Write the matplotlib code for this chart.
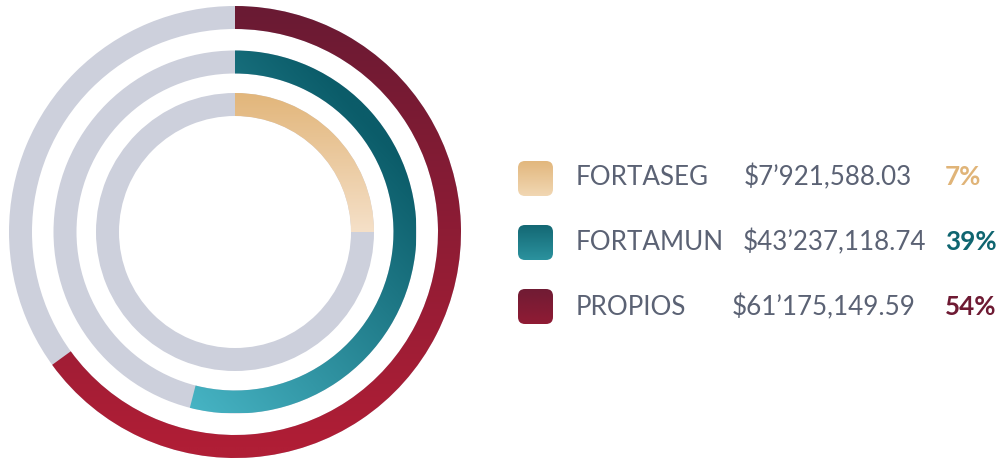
import numpy as np
import matplotlib.pyplot as plt
from matplotlib.patches import Wedge, FancyBboxPatch
from matplotlib.colors import LinearSegmentedColormap

# data
labels = ['FORTASEG', 'FORTAMUN', 'PROPIOS']
amounts = ['$7\u2019921,588.03', '$43\u2019237,118.74', '$61\u2019175,149.59']
pcts = [7, 39, 54]
# share of each ring that is filled, as drawn (inner -> outer)
arc_share = [0.25, 0.54, 0.65]

# gradient colours per series (start, end)
grad_colors = [('#E2B67B', '#F5E0C8'), ('#0B5C69', '#46B3C3'), ('#6A1A33', '#B01E36')]
box_colors = [('#E2B77D', '#F1D7B3'), ('#146874', '#2B929E'), ('#701B34', '#901C34')]
pct_colors = ['#E0B478', '#0F6570', '#6E1A33']
track_color = '#CDD0DC'
text_color = '#5B6274'

fig = plt.figure(figsize=(10.04, 4.6), dpi=100)
ax = fig.add_axes([0, 0, 1, 1])
ax.set_xlim(0, 1004)
ax.set_ylim(460, 0)
ax.axis('off')

cx, cy = 235, 233
radii = [139, 181.5, 226]
ring_w = 23


def gradient(clip, x0, x1, y0, y1, p0, p1, c1, c2):
    # linear gradient from point p0 to p1, clipped to a patch
    xs = np.linspace(x0, x1, 300)
    ys = np.linspace(y0, y1, 300)
    xx, yy = np.meshgrid(xs, ys)
    dx, dy = p1[0] - p0[0], p1[1] - p0[1]
    t = ((xx - p0[0]) * dx + (yy - p0[1]) * dy) / (dx * dx + dy * dy)
    t = np.clip(t, 0, 1)
    cmap = LinearSegmentedColormap.from_list('g', [c1, c2])
    im = ax.imshow(t, cmap=cmap, extent=(x0, x1, y1, y0), origin='upper',
                   interpolation='bilinear', vmin=0, vmax=1, zorder=2)
    im.set_clip_path(clip)


# gradient direction per ring
grad_dirs = [((235, 94), (235, 233)), ((430, 190), (190, 405)), ((235, 10), (235, 450))]

for i in range(3):
    r = radii[i]
    ax.add_patch(Wedge((cx, cy), r, 0, 360, width=ring_w, color=track_color, lw=0, zorder=1))
    w = Wedge((cx, cy), r, -90, -90 + 360 * arc_share[i], width=ring_w,
              transform=ax.transData)
    gradient(w, cx - r, cx + r, cy - r, cy + r, grad_dirs[i][0], grad_dirs[i][1],
             grad_colors[i][0], grad_colors[i][1])

# legend rows
box_y = [162, 226, 290]
base_y = [185, 250, 315]
amount_x = [744, 743, 732]
for i in range(3):
    box = FancyBboxPatch((518, box_y[i]), 35, 35, boxstyle='round,pad=0,rounding_size=7',
                         transform=ax.transData)
    gradient(box, 518, 553, box_y[i], box_y[i] + 35, (535, box_y[i]), (535, box_y[i] + 35),
             box_colors[i][0], box_colors[i][1])
    ax.text(576, base_y[i], labels[i], fontsize=18.7, color=text_color,
            family='Lato', va='baseline', ha='left')
    ax.text(amount_x[i], base_y[i], amounts[i], fontsize=18.7, color=text_color,
            family='Lato', va='baseline', ha='left')
    ax.text(945, base_y[i], str(pcts[i]) + '%', fontsize=18.7, color=pct_colors[i],
            family='Lato', fontweight='bold', va='baseline', ha='left')

ax.set_xlim(0, 1004)
ax.set_ylim(460, 0)
fig.savefig('out.png', dpi=100)
